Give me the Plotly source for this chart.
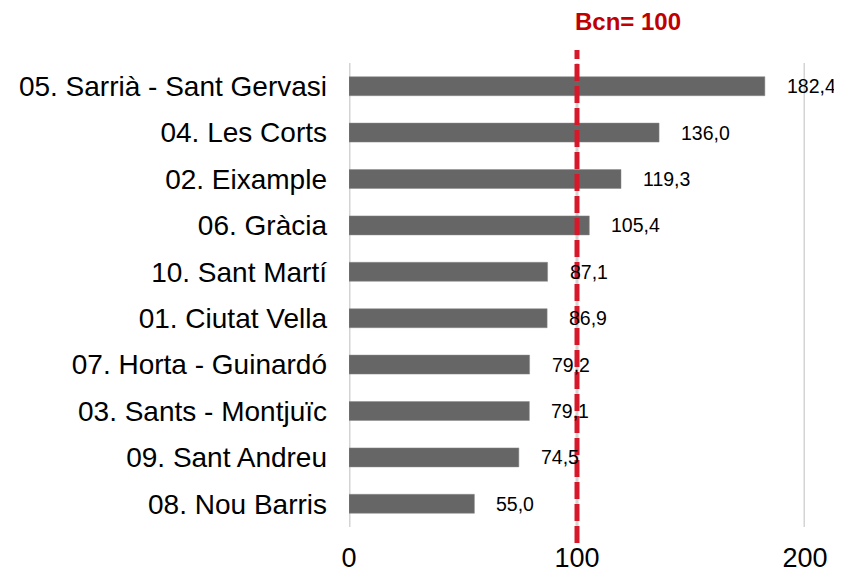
import plotly.graph_objects as go

districts = ["05. Sarrià - Sant Gervasi", "04. Les Corts", "02. Eixample", "06. Gràcia",
             "10. Sant Martí", "01. Ciutat Vella", "07. Horta - Guinardó",
             "03. Sants - Montjuïc", "09. Sant Andreu", "08. Nou Barris"]
index_values = [182.4, 136.0, 119.3, 105.4, 87.1, 86.9, 79.2, 79.1, 74.5, 55.0]
x_ticks = [0, 100, 200]
bcn_value = 100
bcn_label = "Bcn= 100"

FONT = "Liberation Sans, Arial"

fig = go.Figure()

fig.add_trace(go.Bar(
    x = index_values,
    y = districts,
    orientation = "h",
    marker = dict(color = "#666666", line = dict(color = "#8a8a8a", width = 0.5)),
    width = 0.41,
    hoverinfo = "skip",
))

# vertical grid lines drawn as shapes (plotly drops them at the range edges)
for t in x_ticks:
    fig.add_shape(
        type = "line", xref = "x", yref = "paper",
        x0 = t, x1 = t, y0 = 0, y1 = 1, layer = "below",
        line = dict(color = "#D4D4D4", width = 3),
    )

# value labels next to each bar, comma as decimal separator
for name, v in zip(districts, index_values):
    fig.add_annotation(
        x = v, y = name, xref = "x", yref = "y",
        text = f"{v:.1f}".replace(".", ","),
        showarrow = False, xanchor = "left", xshift = 20,
        font = dict(family = FONT, size = 19.5, color = "#000000"),
    )

# Barcelona reference line
fig.add_shape(
    type = "line", xref = "x", yref = "paper",
    x0 = bcn_value, x1 = bcn_value, y0 = -0.0345, y1 = 1.028,
    line = dict(color = "#D7182A", width = 5, dash = "17px,5px"),
)
fig.add_annotation(
    x = bcn_value, y = 1.09, xref = "x", yref = "paper",
    text = "<b>" + bcn_label + "</b>", showarrow = False,
    xanchor = "left", yanchor = "middle", xshift = -4,
    font = dict(family = FONT, size = 24, color = "#C00000"),
)

# page body has an 8px margin, so the figure is 8px smaller each way
fig.update_layout(
    width = 834, height = 567,
    margin = dict(l = 341, r = 37, t = 55, b = 48, autoexpand = False),
    plot_bgcolor = "white", paper_bgcolor = "white",
    showlegend = False,
    font = dict(family = FONT, color = "#000000"),
)
fig.update_xaxes(
    range = [0, 200], tickvals = x_ticks, ticktext = [str(t) for t in x_ticks],
    showgrid = False, zeroline = False, showline = False,
    tickfont = dict(size = 27), ticklabelstandoff = 12,
    fixedrange = True,
)
fig.update_yaxes(
    categoryorder = "array", categoryarray = districts[::-1],
    showgrid = False, zeroline = False, showline = False,
    tickfont = dict(size = 28), ticklabelstandoff = 21,
    fixedrange = True,
)

fig.write_html("out.html")
